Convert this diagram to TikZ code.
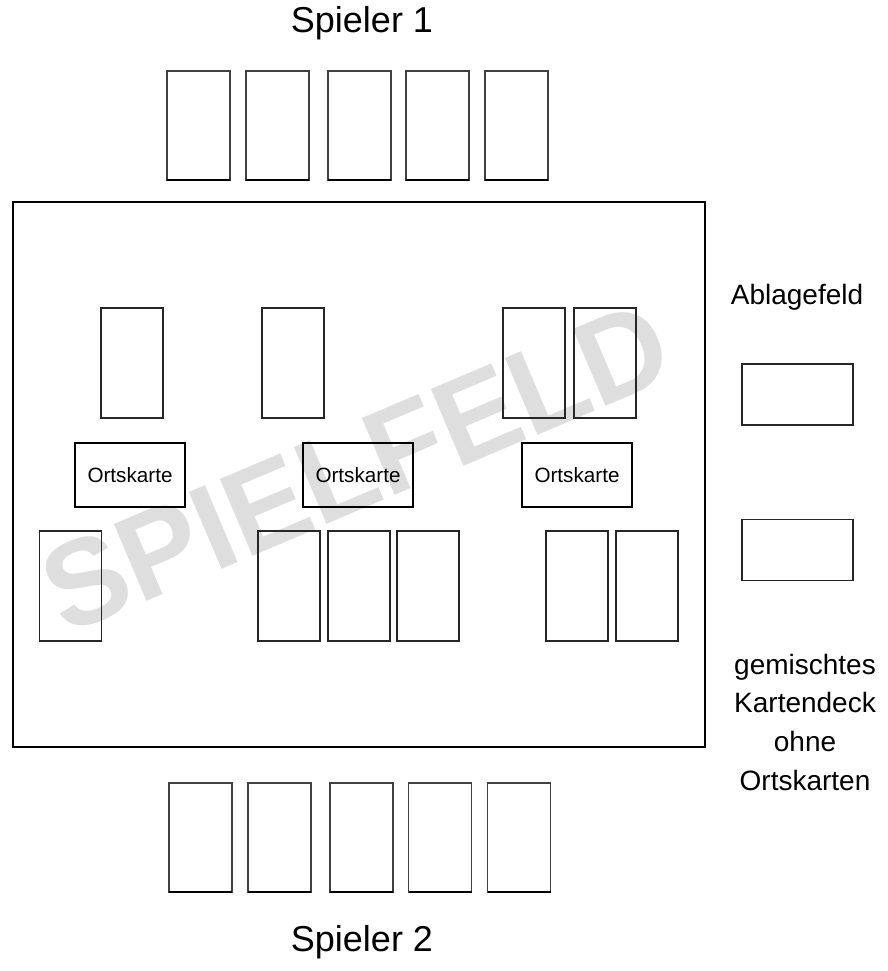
\documentclass[tikz,border=0pt]{standalone}
\usepackage{fontspec}
\setmainfont{Liberation Sans}
\begin{document}
\begin{tikzpicture}[x=0.75pt,y=-0.75pt,
  card/.style={draw=black!75,line width=1.1pt,minimum width=47.25pt,minimum height=81.75pt,inner sep=0pt,outer sep=0pt},
  fcard/.style={draw=black!85,line width=0.8pt,minimum width=46.5pt,minimum height=82.5pt,inner sep=0pt,outer sep=0pt},
  ort/.style={draw=black,line width=0.9pt,minimum width=82.5pt,minimum height=48pt,inner sep=0pt,outer sep=0pt,font=\fontsize{15.5pt}{18pt}\selectfont},
  pile/.style={draw=black!85,line width=0.8pt,minimum width=83.25pt,minimum height=45.75pt,inner sep=0pt,outer sep=0pt},
  lbl/.style={font=\fontsize{21pt}{29pt}\selectfont,align=center,inner sep=0pt},
  big/.style={font=\fontsize{27pt}{32pt}\selectfont,inner sep=0pt}]
\useasboundingbox (0,0) rectangle (888,971);
\fill[white] (0,0) rectangle (888,971);
% watermark
\node[rotate=23,text=black!13,font=\fontsize{91pt}{91pt}\selectfont\bfseries,inner sep=0pt] (wm) at (356,467) {SPIELFELD};
% field
\node[draw=black,line width=1.6pt,minimum width=519pt,minimum height=408.75pt,inner sep=0pt] (field) at (359,474.5) {};
% player 1
\node[big] (s1) at (362,23) {Spieler 1};
\foreach \i/\x in {1/198.5,2/277.5,3/359.5,4/437.5,5/516.5}{
  \node[card] (t\i) at (\x,125.5) {};
  \draw[line width=2pt] (t\i.south west) -- (t\i.south east);
}
% player 2
\node[big] (s2) at (362,942) {Spieler 2};
\foreach \i/\x in {1/200.5,2/279.5,3/361.5,4/440,5/519}{
  \node[card] (b\i) at (\x,837.5) {};
  \draw[line width=2pt] (b\i.south west) -- (b\i.south east);
}
% field cards upper
\foreach \i/\x in {1/132,2/293,3/534,4/605}{
  \node[fcard] (u\i) at (\x,363) {};
}
% Ortskarten
\node[ort] (o1) at (130,475) {Ortskarte};
\node[ort] (o2) at (358,475) {Ortskarte};
\node[ort] (o3) at (577,475) {Ortskarte};
% field cards lower
\foreach \i/\x in {1/70.5,2/289,3/359,4/428,5/577,6/647}{
  \node[fcard] (l\i) at (\x,586) {};
}
% right side
\node[lbl] (abl) at (797,297) {Ablagefeld};
\node[pile] (p1) at (797.5,394.5) {};
\node[pile] (p2) at (797.5,550) {};
\node[lbl] (deck) at (805,722) {gemischtes\\Kartendeck\\ohne\\Ortskarten};
\end{tikzpicture}
\end{document}
